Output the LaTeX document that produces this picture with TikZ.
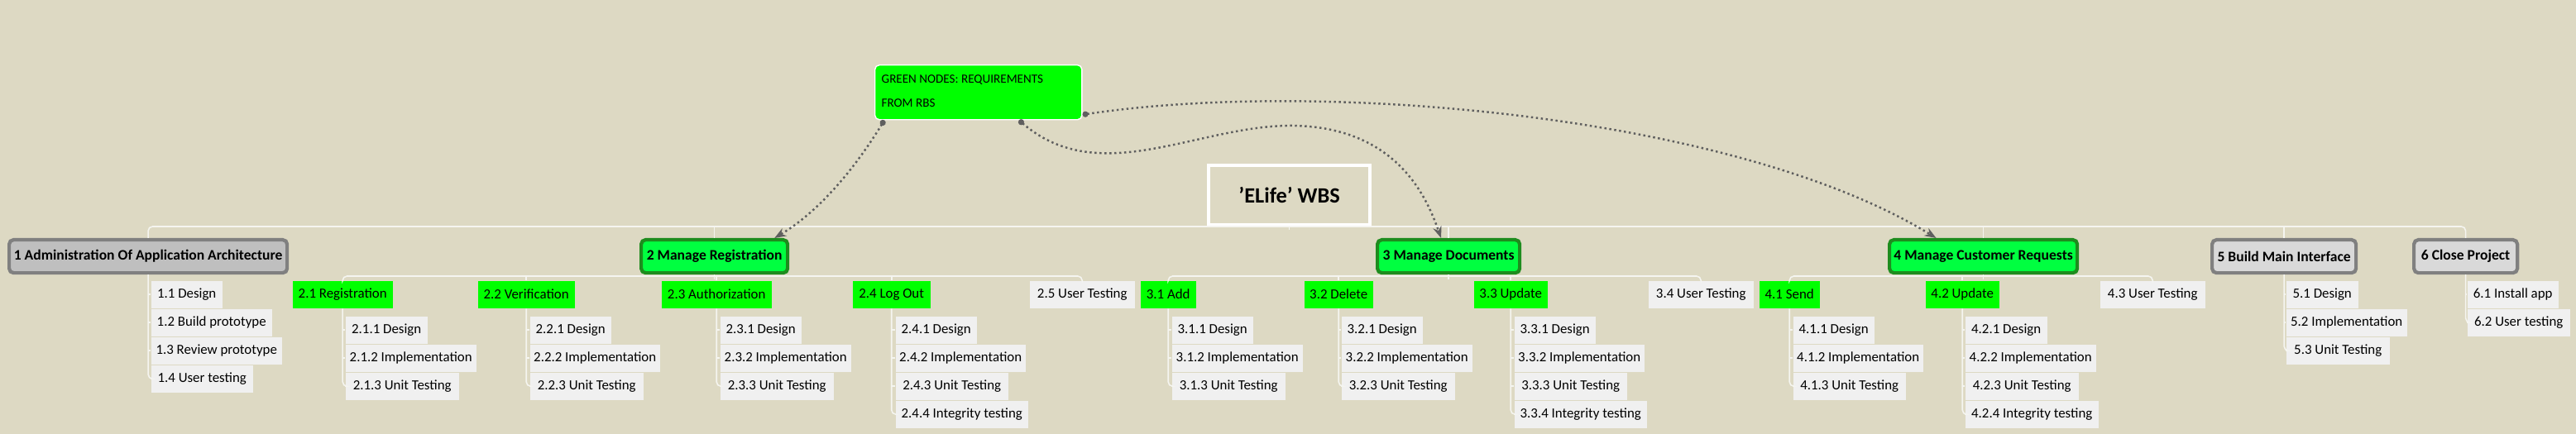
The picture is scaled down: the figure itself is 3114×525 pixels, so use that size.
\documentclass[tikz,border=0pt]{standalone}
\usepackage{fontspec}
\setmainfont{Carlito}
\usetikzlibrary{arrows.meta}
\definecolor{bgc}{RGB}{221,217,195}
\definecolor{lbox}{RGB}{240,240,240}
\definecolor{gbox}{RGB}{0,255,0}
\definecolor{lone}{RGB}{0,255,64}
\definecolor{lonedraw}{RGB}{30,140,30}
\definecolor{gdark}{RGB}{191,191,191}
\definecolor{glight}{RGB}{217,217,217}
\definecolor{gdraw}{RGB}{128,128,128}
\definecolor{treec}{RGB}{245,245,240}
\definecolor{linkc}{RGB}{95,95,95}
\tikzset{
  base/.style={inner sep=0pt, minimum height=0.33cm, font=\fontsize{4.8}{5.5}\selectfont},
  sub/.style={base, fill=lbox},
  req/.style={base, fill=gbox},
  lonebase/.style={inner sep=0pt, minimum height=0.40cm, rounded corners=1.5pt, line width=1.2pt, font=\fontsize{5}{6}\selectfont\bfseries},
  lg/.style={lonebase, fill=lone, draw=lonedraw},
  lgd/.style={lonebase, fill=gdark, draw=gdraw},
  lgl/.style={lonebase, fill=glight, draw=gdraw},
  tree/.style={draw=treec, line width=0.45pt, rounded corners=1.5pt},
  link/.style={draw=linkc, densely dotted, line width=0.7pt, {Circle[length=2pt]}-{Stealth[length=4pt,width=3pt]}}
}
\newcommand\wb[6]{\node[#1, anchor=north west, minimum width=#5*0.01cm] (#2) at (#3,#4) {#6};}
\begin{document}
\begin{tikzpicture}[x=0.01cm,y=-0.01cm]
\fill[bgc] (0,0) rectangle (3114,525);
\useasboundingbox (0,0) rectangle (3114,525);
% title and note
\node[draw=white, line width=1.2pt, fill=bgc, anchor=north west, minimum width=1.95cm, minimum height=0.72cm, inner sep=0pt, font=\fontsize{7.5}{9}\selectfont\bfseries] (title) at (1459,198) {'ELife' WBS};
\node[fill=gbox, draw=white, line width=0.4pt, rounded corners=1.5pt, anchor=north west, minimum width=2.5cm, minimum height=0.66cm, inner sep=0pt] (note) at (1057,78) {};
\node[anchor=west, inner sep=0pt, font=\fontsize{4.3}{5}\selectfont] (notea) at (1065,97) {GREEN NODES: REQUIREMENTS};
\node[anchor=west, inner sep=0pt, font=\fontsize{4.3}{5}\selectfont] (noteb) at (1065,125) {FROM RBS};
% level 1
\wb{lgd}{n1}{9}{288}{336}{1 Administration Of Application Architecture}
\wb{lg}{n2}{773}{288}{177}{2 Manage Registration}
\wb{lg}{n3}{1663}{288}{172}{3 Manage Documents}
\wb{lg}{n4}{2282}{288}{227}{4 Manage Customer Requests}
\wb{lgl}{n5}{2672}{288}{174}{5 Build Main Interface}
\wb{lgl}{n6}{2916}{288}{125}{6 Close Project}
% 1.x
\wb{sub}{n11}{182}{339}{86}{1.1 Design}
\wb{sub}{n12}{182}{373}{146}{1.2 Build prototype}
\wb{sub}{n13}{182}{407}{158}{1.3 Review prototype}
\wb{sub}{n14}{182}{441}{123}{1.4 User testing}
% 2.x
\wb{req}{n21}{353}{339}{121}{2.1 Registration}
\wb{req}{n22}{577}{339}{117}{2.2 Verification}
\wb{req}{n23}{799}{339}{133}{2.3 Authorization}
\wb{req}{n24}{1030}{339}{94}{2.4 Log Out}
\wb{sub}{n25}{1244}{339}{127}{2.5 User Testing}
\wb{sub}{n211}{417}{382}{99}{2.1.1 Design}
\wb{sub}{n212}{417}{416}{158}{2.1.2 Implementation}
\wb{sub}{n213}{417}{450}{137}{2.1.3 Unit Testing}
\wb{sub}{n221}{640}{382}{98}{2.2.1 Design}
\wb{sub}{n222}{640}{416}{157}{2.2.2 Implementation}
\wb{sub}{n223}{640}{450}{137}{2.2.3 Unit Testing}
\wb{sub}{n231}{870}{382}{98}{2.3.1 Design}
\wb{sub}{n232}{870}{416}{158}{2.3.2 Implementation}
\wb{sub}{n233}{870}{450}{137}{2.3.3 Unit Testing}
\wb{sub}{n241}{1082}{382}{98}{2.4.1 Design}
\wb{sub}{n242}{1082}{416}{157}{2.4.2 Implementation}
\wb{sub}{n243}{1082}{450}{136}{2.4.3 Unit Testing}
\wb{sub}{n244}{1082}{484}{160}{2.4.4 Integrity testing}
% 3.x
\wb{req}{n31}{1378}{339}{67}{3.1 Add}
\wb{req}{n32}{1576}{339}{83}{3.2 Delete}
\wb{req}{n33}{1781}{339}{89}{3.3 Update}
\wb{sub}{n34}{1992}{339}{127}{3.4 User Testing}
\wb{sub}{n311}{1416}{382}{98}{3.1.1 Design}
\wb{sub}{n312}{1416}{416}{158}{3.1.2 Implementation}
\wb{sub}{n313}{1416}{450}{137}{3.1.3 Unit Testing}
\wb{sub}{n321}{1621}{382}{98}{3.2.1 Design}
\wb{sub}{n322}{1621}{416}{158}{3.2.2 Implementation}
\wb{sub}{n323}{1621}{450}{137}{3.2.3 Unit Testing}
\wb{sub}{n331}{1830}{382}{98}{3.3.1 Design}
\wb{sub}{n332}{1830}{416}{157}{3.3.2 Implementation}
\wb{sub}{n333}{1830}{450}{136}{3.3.3 Unit Testing}
\wb{sub}{n334}{1830}{484}{160}{3.3.4 Integrity testing}
% 4.x
\wb{req}{n41}{2126}{339}{73}{4.1 Send}
\wb{req}{n42}{2327}{339}{89}{4.2 Update}
\wb{sub}{n43}{2538}{339}{127}{4.3 User Testing}
\wb{sub}{n411}{2167}{382}{98}{4.1.1 Design}
\wb{sub}{n412}{2167}{416}{157}{4.1.2 Implementation}
\wb{sub}{n413}{2167}{450}{136}{4.1.3 Unit Testing}
\wb{sub}{n421}{2375}{382}{99}{4.2.1 Design}
\wb{sub}{n422}{2375}{416}{158}{4.2.2 Implementation}
\wb{sub}{n423}{2375}{450}{137}{4.2.3 Unit Testing}
\wb{sub}{n424}{2375}{484}{161}{4.2.4 Integrity testing}
% 5.x, 6.x
\wb{sub}{n51}{2763}{339}{87}{5.1 Design}
\wb{sub}{n52}{2763}{373}{146}{5.2 Implementation}
\wb{sub}{n53}{2763}{407}{125}{5.3 Unit Testing}
\wb{sub}{n61}{2982}{339}{110}{6.1 Install app}
\wb{sub}{n62}{2982}{373}{124}{6.2 User testing}
% top bar
\draw[tree] (n1.north) -- ++(0,-14) -| (n6.north);
\foreach \n in {n2,n3,n4,n5} \draw[tree] (\n.north) -- ++(0,-14);
\draw[tree] (title.south) -- ++(0,4);
% level-2 bars
\draw[tree] (n21.north) -- ++(0,-5) -| (n25.north);
\foreach \n in {n22,n23,n24} \draw[tree] (\n.north) -- ++(0,-5);
\draw[tree] (n2.south) -- ++(0,6);
\draw[tree] (n31.north) -- ++(0,-5) -| (n34.north);
\foreach \n in {n32,n33} \draw[tree] (\n.north) -- ++(0,-5);
\draw[tree] (n3.south) -- ++(0,6);
\draw[tree] (n41.north) -- ++(0,-5) -| (n43.north);
\draw[tree] (n42.north) -- ++(0,-5);
\draw[tree] (n4.south) -- ++(0,6);
% vertical child lists
\draw[tree] (n1.south) -- (n1.south |- n14.west) -- (n14.west);
\foreach \c in {n11,n12,n13} \draw[tree] (n1.south |- \c.west) -- (\c.west);
\draw[tree] (n5.south) -- (n5.south |- n53.west) -- (n53.west);
\foreach \c in {n51,n52} \draw[tree] (n5.south |- \c.west) -- (\c.west);
\draw[tree] (n6.south) -- (n6.south |- n62.west) -- (n62.west);
\draw[tree] (n6.south |- n61.west) -- (n61.west);
\foreach \p/\last/\others in {n21/n213/{n211,n212}, n22/n223/{n221,n222}, n23/n233/{n231,n232}, n24/n244/{n241,n242,n243}, n31/n313/{n311,n312}, n32/n323/{n321,n322}, n33/n334/{n331,n332,n333}, n41/n413/{n411,n412}, n42/n424/{n421,n422,n423}}{
  \draw[tree] (\p.south) -- (\p.south |- \last.west) -- (\last.west);
  \foreach \c in \others \draw[tree] (\p.south |- \c.west) -- (\c.west);
}
% links
\draw[link] (note.south west) ++(12,0) coordinate (la) (la) .. controls (1045,185) and (1000,250) .. ([xshift=-0.18cm]n2.north east);
\draw[link] (note.south) ++(49,0) coordinate (lb) (lb) .. controls (1330,230) and (1450,150) .. (1565,152) .. controls (1690,155) and (1725,240) .. ([xshift=-0.09cm]n3.north);
\draw[link] (note.east) ++(0,27) coordinate (lc) (lc) .. controls (1600,95) and (2100,140) .. ([xshift=-0.57cm]n4.north);
\end{tikzpicture}
\end{document}
